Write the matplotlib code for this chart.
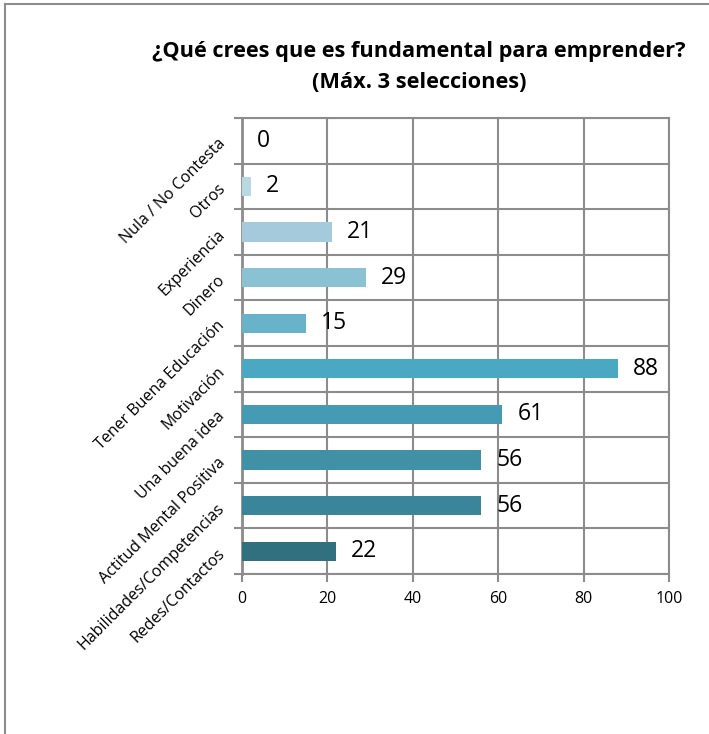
import matplotlib
matplotlib.use("Agg")
import matplotlib.pyplot as plt
import numpy as np
from matplotlib.lines import Line2D

# categories from bottom to top
categories = ["Redes/Contactos", "Habilidades/Competencias", "Actitud Mental Positiva",
              "Una buena idea", "Motivación", "Tener Buena Educación", "Dinero",
              "Experiencia", "Otros", "Nula / No Contesta"]
values = [22, 56, 56, 61, 88, 15, 29, 21, 2, 0]
colors = ["#31717f", "#3a8599", "#4091a6", "#459bb3", "#4aa8c2",
          "#68b3ca", "#8ac1d3", "#a4cadb", "#b8d8e4", "#c8e0ea"]
x_ticks = [0, 20, 40, 60, 80, 100]

plt.rcParams['font.family'] = ['Open Sans', 'DejaVu Sans']
grid_col = "#8c8c8c"

fig = plt.figure(figsize=(7.09, 7.34), dpi=100)
ax = fig.add_axes([242 / 709, 1 - 574 / 734, 427 / 709, 456 / 734])

pos = np.arange(len(categories))
ax.barh(pos, values, height=0.42, color=colors, zorder=3)

for p, v in zip(pos, values):
    ax.text(v + 3.5, p, str(v), va="center", ha="left", fontsize=16.5, color="#000000", zorder=4)

ax.set_xlim(0, 100)
ax.set_ylim(-0.5, len(categories) - 0.5)
ax.set_xticks(x_ticks)
ax.set_xticklabels([str(t) for t in x_ticks], fontsize=11.5)

ax.set_yticks(pos)
ax.set_yticklabels(categories, fontsize=11.5, rotation=45, ha="right", va="center",
                   rotation_mode="anchor")
ax.set_yticks(np.arange(-0.5, len(categories), 1), minor=True)
ax.tick_params(axis="y", which="major", length=0, pad=14)
ax.tick_params(axis="y", which="minor", length=6, width=1.5, color=grid_col)
ax.tick_params(axis="x", length=6, width=1.5, color=grid_col, pad=6)

ax.grid(True, axis="x", which="major", color=grid_col, linewidth=1.5, zorder=0)
ax.grid(True, axis="y", which="minor", color=grid_col, linewidth=1.5, zorder=0)
ax.set_axisbelow(True)
for side in ["top", "right"]:
    ax.spines[side].set_color(grid_col)
    ax.spines[side].set_linewidth(1.5)
ax.spines["left"].set_color(grid_col)
ax.spines["left"].set_linewidth(2)
ax.spines["bottom"].set_color(grid_col)
ax.spines["bottom"].set_linewidth(1.5)

fig.text(0.591, 1 - 52 / 734, "¿Qué crees que es fundamental para emprender?",
         ha="center", va="center", fontsize=15.7, fontweight="bold")
fig.text(0.591, 1 - 82 / 734, "(Máx. 3 selecciones)",
         ha="center", va="center", fontsize=15.7, fontweight="bold")

# outer chart border (only top and left visible)
fig.add_artist(Line2D([5 / 709, 5 / 709], [0, 1 - 4 / 734], transform=fig.transFigure,
                      color="#8c8c8c", linewidth=1.5))
fig.add_artist(Line2D([5 / 709, 1], [1 - 4 / 734, 1 - 4 / 734], transform=fig.transFigure,
                      color="#8c8c8c", linewidth=1.5))

fig.savefig("out.png", dpi=100)
